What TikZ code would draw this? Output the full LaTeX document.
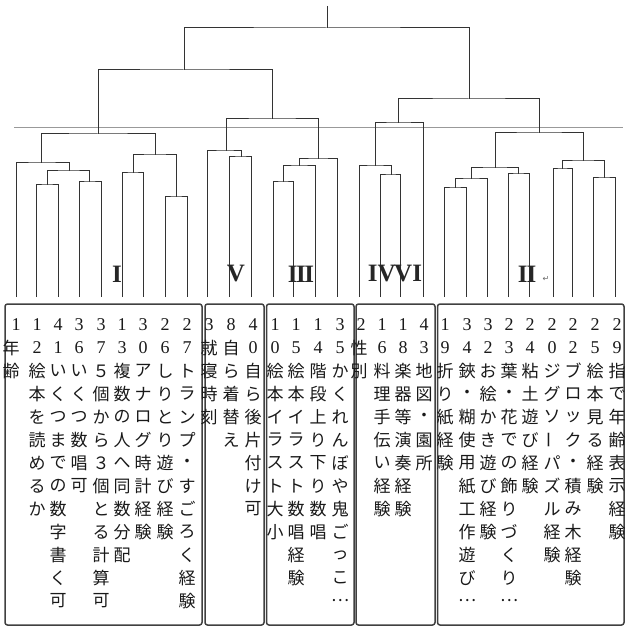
\documentclass[tikz,border=0pt]{standalone}
\usepackage{fontspec}
\setmainfont{Liberation Serif}
\newfontfamily\cjk{Noto Sans CJK JP}
\newfontfamily\djv{DejaVu Sans}
\tikzset{
 link/.style={draw=black!80, line width=1pt},
 cutline/.style={draw=black!40, line width=0.8pt},
 panel/.style={draw=black!75, line width=1.5pt, rounded corners=2.5pt},
 dig/.style={font=\fontsize{18}{18}\selectfont, inner sep=0pt, text=black!90},
 cjkch/.style={font=\cjk\fontsize{17}{17}\selectfont, inner sep=0pt, text=black!90},
 roman/.style={font=\bfseries\fontsize{25}{25}\selectfont, inner sep=0pt, text=black!85},
}
\newcommand\colstack[6]{%
 \foreach \d [count=\i from 0] in {#3} {\node[dig] (d#1-\i) at (#2,{325+23*\i}) {\d};}
 \foreach \c [count=\i from #5] in {#6} {\node[cjkch] (c#1-\i) at (#4,{325+23*\i}) {\c};}
}
\newcommand\joinpair[3]{\draw[link] (#2) |- (#1) -| (#3);}
\begin{document}
\begin{tikzpicture}[x=1pt,y=-1pt]
\useasboundingbox (0,0) rectangle (627,628);
% junctions
\coordinate (top) at (327,6);
\coordinate (r) at (327,28);
\coordinate (a) at (184,70);
\coordinate (b) at (469,99);
\coordinate (a1) at (98,134);
\coordinate (a2) at (272,119);
\coordinate (b1) at (398,123);
\coordinate (b2) at (539,133);
\coordinate (i1) at (41,163);
\coordinate (i2) at (155,155);
\coordinate (i12) at (69,171);
\coordinate (i121) at (47,185);
\coordinate (i122) at (89,182);
\coordinate (i21) at (133,173);
\coordinate (i22) at (176,197);
\coordinate (v) at (226,151);
\coordinate (v2) at (241,157);
\coordinate (t) at (318,159);
\coordinate (t1) at (299,166);
\coordinate (t11) at (283,182);
\coordinate (f) at (375,166);
\coordinate (f2) at (391,175);
\coordinate (s) at (495,168);
\coordinate (s1) at (471,179);
\coordinate (s11) at (455,188);
\coordinate (s2) at (518,174);
\coordinate (u) at (583,161);
\coordinate (u1) at (562,169);
\coordinate (u2) at (604,178);
% leaves
\foreach \n/\x in {1/16,2/36,3/58,4/79,5/101,6/122,7/143,8/165,9/187,10/207,11/229,12/251,13/273,14/293,15/315,16/337,17/359,18/380,19/400,20/423,21/444,22/466,23/487,24/508,25/529,26/553,27/572,28/593,29/615}
  \coordinate (L\n) at (\x,297);
% cut line
\coordinate (cl1) at (14,127);
\coordinate (cl2) at (623,127);
\draw[cutline] (cl1) -- (cl2);
% tree
\draw[link] (top) -- (r);
\joinpair{r}{a}{b}
\joinpair{a}{a1}{a2}
\joinpair{b}{b1}{b2}
\joinpair{a1}{i1}{i2}
\joinpair{i1}{L1}{i12}
\joinpair{i12}{i121}{i122}
\joinpair{i121}{L2}{L3}
\joinpair{i122}{L4}{L5}
\joinpair{i2}{i21}{i22}
\joinpair{i21}{L6}{L7}
\joinpair{i22}{L8}{L9}
\joinpair{a2}{v}{t}
\joinpair{v}{L10}{v2}
\joinpair{v2}{L11}{L12}
\joinpair{t}{t1}{L16}
\joinpair{t1}{t11}{L15}
\joinpair{t11}{L13}{L14}
\joinpair{b1}{f}{L20}
\joinpair{f}{L17}{f2}
\joinpair{f2}{L18}{L19}
\joinpair{b2}{s}{u}
\joinpair{s}{s1}{s2}
\joinpair{s1}{s11}{L23}
\joinpair{s11}{L21}{L22}
\joinpair{s2}{L24}{L25}
\joinpair{u}{u1}{u2}
\joinpair{u1}{L26}{L27}
\joinpair{u2}{L28}{L29}
% cluster labels
\node[roman] (lI) at (117,274) {I};
\node[roman] (lV) at (236,274) {V};
\node[roman] (lIII) at (301,274) {I\kern-1.5pt I\kern-1.5pt I};
\node[roman] (lIV) at (395,274) {IV\kern-1.5pt VI};
\node[roman] (lII) at (527,274) {I\kern-1pt I};
\node[font=\djv\fontsize{8}{8}\selectfont, text=black!60, inner sep=0pt] (ret) at (546,279) {↵};
% panels
\draw[panel] (5,304) rectangle (202,625);
\draw[panel] (205,304) rectangle (264,625);
\draw[panel] (266.5,304) rectangle (354,625);
\draw[panel] (356,304) rectangle (435,625);
\draw[panel] (437.5,304) rectangle (624,625);
% columns
\colstack{1}{16}{1}{11}{1}{年,齢}
\colstack{2}{37}{1,2}{37}{2}{絵,本,を,読,め,る,か}
\colstack{3}{58}{4,1}{58}{2}{い,く,つ,ま,で,の,数,字,書,く,可}
\colstack{4}{79}{3,6}{79}{2}{い,く,つ,数,唱,可}
\colstack{5}{101}{3,7}{101}{2}{５,個,か,ら,３,個,と,る,計,算,可}
\colstack{6}{122}{1,3}{122}{2}{複,数,の,人,へ,同,数,分,配}
\colstack{7}{143}{3,0}{143}{2}{ア,ナ,ロ,グ,時,計,経,験}
\colstack{8}{165}{2,6}{165}{2}{し,り,と,り,遊,び,経,験}
\colstack{9}{187}{2,7}{187}{2}{ト,ラ,ン,プ,・,す,ご,ろ,く,経,験}
\colstack{10}{209}{3}{209}{1}{就,寝,時,刻}
\colstack{11}{231}{8}{231}{1}{自,ら,着,替,え}
\colstack{12}{253}{4,0}{253}{2}{自,ら,後,片,付,け,可}
\colstack{13}{275}{1,0}{275}{2}{絵,本,イ,ラ,ス,ト,大,小}
\colstack{14}{296}{1,5}{296}{2}{絵,本,イ,ラ,ス,ト,数,唱,経,験}
\colstack{15}{318}{1,4}{318}{2}{階,段,上,り,下,り,数,唱}
\colstack{16}{340}{3,5}{340}{2}{か,く,れ,ん,ぼ,や,鬼,ご,っ,こ,…}
\colstack{17}{361}{2}{359}{1}{性,別}
\colstack{18}{382}{1,6}{382}{2}{料,理,手,伝,い,経,験}
\colstack{19}{403}{1,8}{403}{2}{楽,器,等,演,奏,経,験}
\colstack{20}{424}{4,3}{424}{2}{地,図,・,園,所}
\colstack{21}{445}{1,9}{445}{2}{折,り,紙,経,験}
\colstack{22}{467}{3,4}{467}{2}{鋏,・,糊,使,用,紙,工,作,遊,び,…}
\colstack{23}{488}{3,2}{488}{2}{お,絵,か,き,遊,び,経,験}
\colstack{24}{509}{2,3}{509}{2}{葉,・,花,で,の,飾,り,づ,く,り,…}
\colstack{25}{530}{2,4}{530}{2}{粘,土,遊,び,経,験}
\colstack{26}{552}{2,0}{552}{2}{ジ,グ,ソ,{\rotatebox{90}{ー}},パ,ズ,ル,経,験}
\colstack{27}{573}{2,2}{573}{2}{ブ,ロ,ッ,ク,・,積,み,木,経,験}
\colstack{28}{595}{2,5}{595}{2}{絵,本,見,る,経,験}
\colstack{29}{617}{2,9}{617}{2}{指,で,年,齢,表,示,経,験}
\end{tikzpicture}
\end{document}
